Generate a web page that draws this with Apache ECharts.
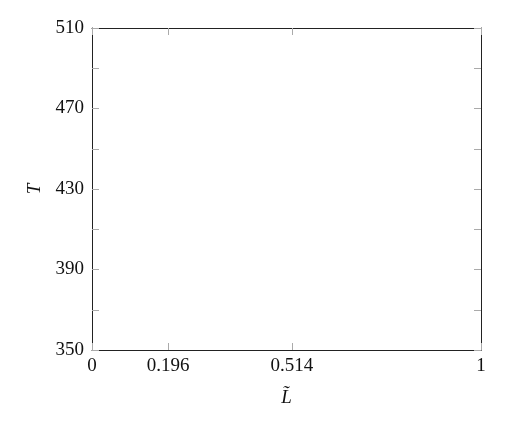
<!DOCTYPE html>
<html><head><meta charset="utf-8">
<script src="https://cdn.jsdelivr.net/npm/echarts@6/dist/echarts.min.js"></script>
<style>html,body{margin:0;padding:0;background:#fff}#c{width:512px;height:424px}</style>
</head><body><div id="c"></div>
<script>
const xTicks = [0, 0.196, 0.514, 1];
const yTicks = [350, 370, 390, 410, 430, 450, 470, 490, 510];
const yLabels = [350, 390, 430, 470, 510];
const xName = 'L\u0303';
const yName = 'T';
const seriesData = [];

const font = 'Liberation Serif';
const lineStyle = {color: '#222', width: 1};
const tickStyle = {color: '#aaa', width: 1};
const chart = echarts.init(document.getElementById('c'), null, {renderer: 'canvas'});
chart.setOption({
  animation: false,
  grid: {left: 92, right: 31, top: 28, bottom: 74, containLabel: false},
  xAxis: [{
    type: 'value', min: 0, max: 1, position: 'bottom',
    name: xName, nameLocation: 'middle', nameGap: 38,
    nameTextStyle: {fontFamily: font, fontStyle: 'italic', fontSize: 19, color: '#111'},
    axisLine: {show: true, onZero: false, lineStyle},
    axisTick: {show: true, inside: true, length: 7, customValues: xTicks, lineStyle: tickStyle},
    axisLabel: {show: true, customValues: xTicks, fontFamily: font, fontSize: 19, color: '#111', margin: 7},
    splitLine: {show: false}
  }, {
    type: 'value', min: 0, max: 1, position: 'top',
    axisLine: {show: true, onZero: false, lineStyle},
    axisTick: {show: true, inside: true, length: 7, customValues: xTicks, lineStyle: tickStyle},
    axisLabel: {show: false}, splitLine: {show: false}
  }],
  yAxis: [{
    type: 'value', min: 350, max: 510, position: 'left',
    name: yName, nameLocation: 'middle', nameGap: 47, nameRotate: 90,
    nameTextStyle: {fontFamily: font, fontStyle: 'italic', fontSize: 19, color: '#111'},
    axisLine: {show: true, onZero: false, lineStyle},
    axisTick: {show: true, inside: true, length: 7, customValues: yTicks, lineStyle: tickStyle},
    axisLabel: {show: true, customValues: yLabels, fontFamily: font, fontSize: 19, color: '#111', margin: 8},
    splitLine: {show: false}
  }, {
    type: 'value', min: 350, max: 510, position: 'right',
    axisLine: {show: true, onZero: false, lineStyle},
    axisTick: {show: true, inside: true, length: 7, customValues: yTicks, lineStyle: tickStyle},
    axisLabel: {show: false}, splitLine: {show: false}
  }],
  series: [{type: 'line', data: seriesData, xAxisIndex: 0, yAxisIndex: 0}]
});
</script></body></html>
